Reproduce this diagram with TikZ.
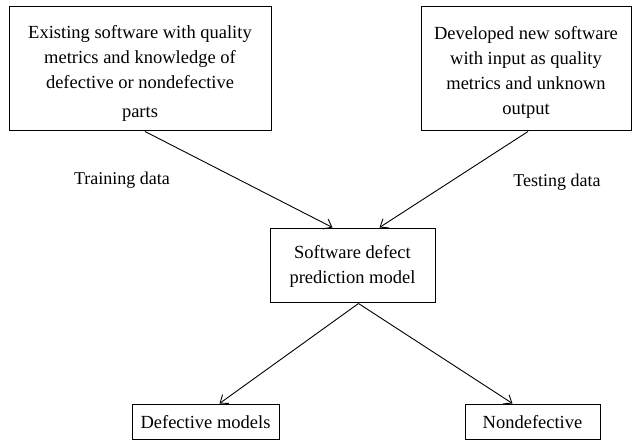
\documentclass[tikz,border=0pt]{standalone}
\usepackage{fontspec}
\setmainfont{Liberation Serif}
\usetikzlibrary{arrows.meta,calc}
\begin{document}
\begin{tikzpicture}[x=1pt,y=-1pt,
  box/.style={draw,line width=1pt,align=center,inner sep=0pt,font=\fontsize{18.5}{25}\selectfont},
  txt/.style={align=center,inner sep=0pt,font=\fontsize{18.5}{25}\selectfont},
  arr/.style={line width=0.9pt,-{Straight Barb[length=7pt,width=11pt]}},
  lbl/.style={font=\fontsize{18}{20}\selectfont}]
\useasboundingbox (0,0) rectangle (635,443);
\node[box,minimum width=262,minimum height=124] (b1) at (140,69) {};
\node[txt] (b1t) at ($(b1.center)+(0,4)$)
  {Existing software with quality\\metrics and knowledge of\\defective or nondefective\\[4pt]parts};
\node[box,minimum width=210,minimum height=124] (b2) at (526,69) {};
\node[txt] (b2t) at ($(b2.center)+(0,3)$)
  {Developed new software\\with input as quality\\metrics and unknown\\output};
\node[box,minimum width=165,minimum height=74] (c) at (352.5,266)
  {Software defect\\prediction model};
\node[box,minimum width=147,minimum height=35] (d) at (205.5,422.5) {Defective models};
\node[box,minimum width=135,minimum height=35] (n) at (532.5,422.5) {Nondefective};
\node[lbl] (tr) at (122,180) {Training data};
\node[lbl] (te) at (557,182) {Testing data};
\draw[arr] ($(b1.south)+(5,0)$) -- ($(c.north)+(-20,-1)$);
\draw[arr] ($(b2.south)+(2,0)$) -- ($(c.north)+(27,-1)$);
\draw[arr] ($(c.south)+(6,0)$) -- ($(d.north)+(14,-1)$);
\draw[arr] ($(c.south)+(6,0)$) -- ($(n.north)+(-20,-1)$);
\end{tikzpicture}
\end{document}
